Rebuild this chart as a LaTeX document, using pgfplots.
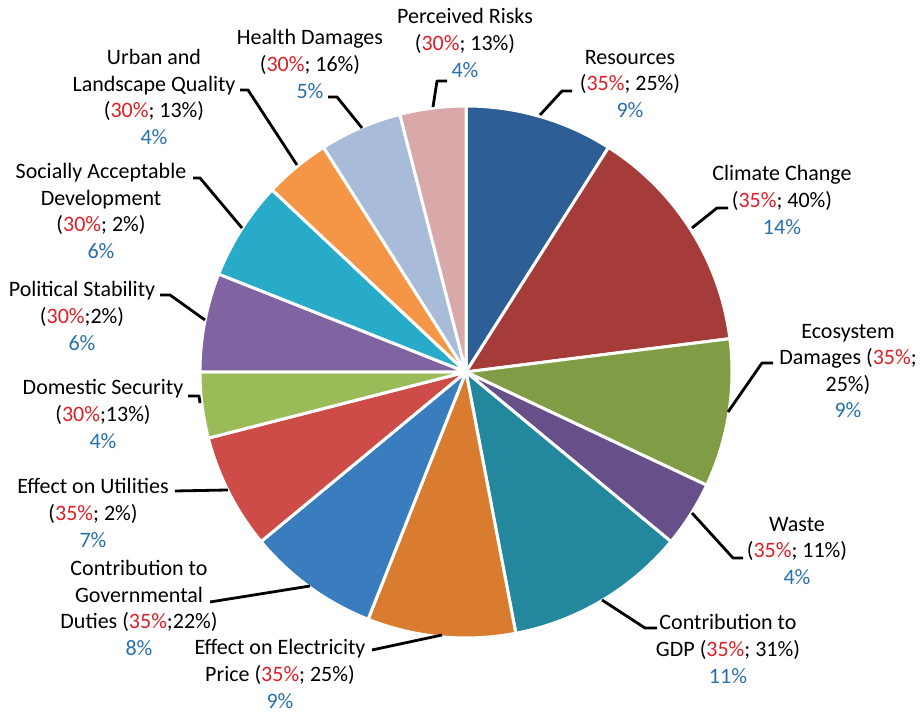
\documentclass[border=0pt]{standalone}
\usepackage{pgfplots}
\usepackage{pgfplotstable}
\pgfplotsset{compat=1.18}
\usepackage{fontspec}
\setmainfont{Carlito}

% slice colours
\definecolor{cRes}{RGB}{45,95,150}
\definecolor{cCli}{RGB}{165,60,58}
\definecolor{cEco}{RGB}{128,156,68}
\definecolor{cWas}{RGB}{103,80,138}
\definecolor{cGdp}{RGB}{35,136,158}
\definecolor{cEle}{RGB}{217,124,48}
\definecolor{cGov}{RGB}{58,125,190}
\definecolor{cUti}{RGB}{206,76,72}
\definecolor{cDom}{RGB}{155,187,89}
\definecolor{cPol}{RGB}{128,100,162}
\definecolor{cSoc}{RGB}{39,171,200}
\definecolor{cUrb}{RGB}{245,150,70}
\definecolor{cHea}{RGB}{168,187,216}
\definecolor{cPer}{RGB}{217,168,168}
% label colours
\definecolor{tred}{RGB}{222,30,36}
\definecolor{tblue}{RGB}{40,112,172}

% share of each slice (%), clockwise from 12 o'clock
\pgfplotstableread{
pct col
9  cRes
14 cCli
9  cEco
4  cWas
11 cGdp
9  cEle
8  cGov
7  cUti
4  cDom
6  cPol
6  cSoc
4  cUrb
5  cHea
4  cPer
}\piedata

\newcommand{\R}[1]{\textcolor{tred}{#1}}
\newcommand{\B}[1]{\textcolor{tblue}{#1}}

\tikzset{lbl/.style={font=\fontsize{11}{13.3}\selectfont, align=center, inner sep=0pt}}
\pgfplotsset{leader/.style={black, line width=1.4pt, line join=round, no marks}}

\begin{document}
\begin{tikzpicture}
\useasboundingbox (0,0) rectangle (461.5pt,358pt);
\begin{axis}[
    at={(0,0)}, anchor=south west,
    scale only axis, width=461.5pt, height=358pt,
    xmin=0, xmax=923, ymin=0, ymax=716,
    hide axis, clip=false,
]
% pie slices
\def\startang{90}
\pgfplotsforeachungrouped \i in {0,...,13}{%
  \pgfplotstablegetelem{\i}{pct}\of\piedata \let\p\pgfplotsretval
  \pgfplotstablegetelem{\i}{col}\of\piedata \let\c\pgfplotsretval
  \pgfmathsetmacro\endang{\startang-3.6*\p}%
  \edef\temp{\noexpand\fill[\c, draw=white, line width=1.5pt, line join=round]
    (axis cs:466,344) -- ++(\startang:133pt)
    arc[start angle=\startang, end angle=\endang, radius=133pt] -- cycle;}%
  \temp
  \global\let\startang\endang
}

% leader lines
\addplot[leader] coordinates {(433,609) (437,635) (447,635)};
\addplot[leader] coordinates {(362,588) (337,619) (328,619)};
\addplot[leader] coordinates {(297,551) (248,626) (240,626)};
\addplot[leader] coordinates {(242,488) (200,538) (193,538)};
\addplot[leader] coordinates {(205,396) (170,421) (160,421)};
\addplot[leader] coordinates {(200,313) (199,320) (188,320)};
\addplot[leader] coordinates {(228,226) (175,225)};
\addplot[leader] coordinates {(310,130) (210,114)};
\addplot[leader] coordinates {(442,81) (372,66)};
\addplot[leader] coordinates {(602,116) (645,88) (657,88)};
\addplot[leader] coordinates {(692,203) (733,158) (743,158)};
\addplot[leader] coordinates {(728,304) (762,353) (773,353)};
\addplot[leader] coordinates {(692,488) (717,508) (728,508)};
\addplot[leader] coordinates {(540,601) (562,625) (572,625)};

% labels
\node[lbl] at (axis cs:465,673) {Perceived Risks\\(\R{30\%}; 13\%)\\\B{4\%}};
\node[lbl] at (axis cs:310,652) {Health Damages\\(\R{30\%}; 16\%)\\\B{5\%}};
\node[lbl] at (axis cs:154,619) {Urban and\\Landscape Quality\\(\R{30\%}; 13\%)\\\B{4\%}};
\node[lbl] at (axis cs:101,505) {Socially Acceptable\\Development\\(\R{30\%}; 2\%)\\\B{6\%}};
\node[lbl] at (axis cs:82,400) {Political Stability\\(\R{30\%};2\%)\\\B{6\%}};
\node[lbl] at (axis cs:103,302) {Domestic Security\\(\R{30\%};13\%)\\\B{4\%}};
\node[lbl] at (axis cs:93,203) {Effect on Utilities\\(\R{35\%}; 2\%)\\\B{7\%}};
\node[lbl] at (axis cs:139,108) {Contribution to\\Governmental\\Duties (\R{35\%};22\%)\\\B{8\%}};
\node[lbl] at (axis cs:280,42) {Effect on Electricity\\Price (\R{35\%}; 25\%)\\\B{9\%}};
\node[lbl] at (axis cs:728,67) {Contribution to\\GDP (\R{35\%}; 31\%)\\\B{11\%}};
\node[lbl] at (axis cs:797,165) {Waste\\(\R{35\%}; 11\%)\\\B{4\%}};
\node[lbl] at (axis cs:848,345) {Ecosystem\\Damages (\R{35\%};\\25\%)\\\B{9\%}};
\node[lbl] at (axis cs:782,516) {Climate Change\\(\R{35\%}; 40\%)\\\B{14\%}};
\node[lbl] at (axis cs:630,632) {Resources\\(\R{35\%}; 25\%)\\\B{9\%}};
\end{axis}
\end{tikzpicture}
\end{document}
